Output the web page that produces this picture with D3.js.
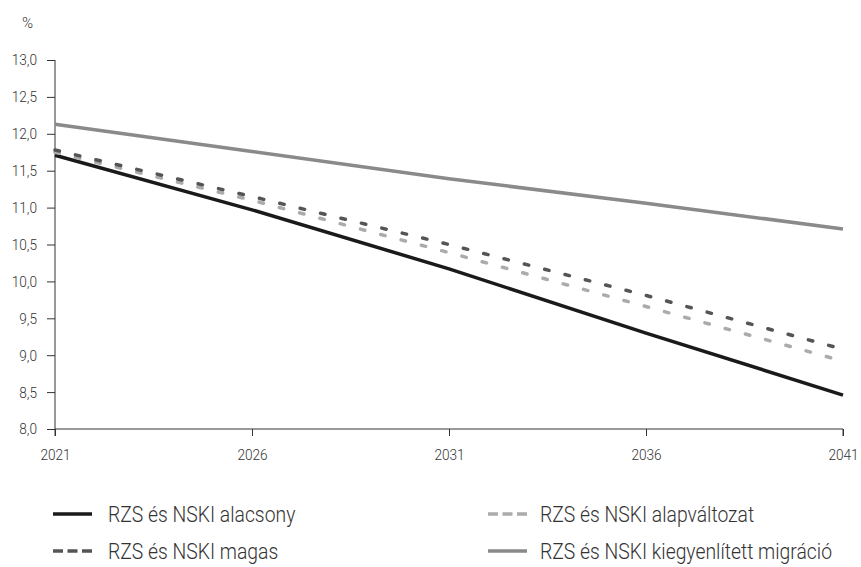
<!DOCTYPE html>
<html><head><meta charset="utf-8">
<script src="https://cdn.jsdelivr.net/npm/d3@7"></script>
<style>
body{margin:0;background:#fff;}
text{font-family:"Roboto",sans-serif;font-weight:300;fill:#333;}
</style></head><body>
<svg id="c" width="861" height="567"></svg>
<script>
const years = [2021, 2026, 2031, 2036, 2041];
const alacsony = [11.71, 10.97, 10.17, 9.30, 8.46];
const magas = [11.78, 11.15, 10.50, 9.81, 9.08];
const alap = [11.75, 11.10, 10.39, 9.66, 8.92];
const migracio = [12.13, 11.76, 11.39, 11.06, 10.71];
const yTicks = [8, 8.5, 9, 9.5, 10, 10.5, 11, 11.5, 12, 12.5, 13];
const xTicks = [2021, 2026, 2031, 2036, 2041];
const series = [
  {name:"RZS és NSKI alacsony", values:alacsony, color:"#1a1a1a", dash:null},
  {name:"RZS és NSKI magas", values:magas, color:"#555555", dash:"4.5,16.5"},
  {name:"RZS és NSKI alapváltozat", values:alap, color:"#ababab", dash:"4.5,16.5"},
  {name:"RZS és NSKI kiegyenlített migráció", values:migracio, color:"#8a8a8a", dash:null}
];
const svg = d3.select("#c");
const x = d3.scaleLinear().domain([2021,2041]).range([55,843]);
const y = d3.scaleLinear().domain([8,13]).range([429,60]);
const fmt = d => d.toFixed(1).replace(".", ",");
const TS = 0.88;

const yAx = svg.append("g").attr("transform","translate(55,0)")
  .call(d3.axisLeft(y).tickValues(yTicks).tickFormat(fmt).tickSize(8));
yAx.select(".domain").attr("d","M0,60V436").attr("stroke","#333");
yAx.selectAll("line").attr("stroke","#333");
yAx.selectAll(".tick text").attr("font-size",15.5)
  .attr("x", -18/TS).attr("transform",`scale(${TS},1)`).attr("text-anchor","end");

const xAx = svg.append("g").attr("transform","translate(0,429)")
  .call(d3.axisBottom(x).tickValues(xTicks).tickFormat(d3.format("d")).tickSize(7).tickPadding(13));
xAx.select(".domain").attr("d","M55,0H843V7").attr("stroke","#333");
xAx.selectAll("line").attr("stroke","#333");
xAx.selectAll(".tick text").attr("font-size",15.5).attr("transform",`scale(${TS},1)`);

svg.append("text").attr("x",22).attr("y",28).attr("font-size",15).text("%");

const line = d3.line().x((d,i)=>x(years[i])).y(d=>y(d));
const order = [series[3], series[0], series[2], series[1]];
order.forEach(s=>{
  svg.append("path").attr("d",line(s.values)).attr("fill","none")
    .attr("stroke",s.color).attr("stroke-width",3.5)
    .attr("stroke-dasharray",s.dash).attr("stroke-linecap",s.dash?"round":"butt");
});

const LS = 0.86;
const legPos = [[53,514],[53,551],[488,514],[488,551]];
const textX = [108,108,540,540];
series.forEach((s,i)=>{
  const [lx,ly] = legPos[i];
  svg.append("line").attr("x1",lx).attr("x2",lx+39).attr("y1",ly).attr("y2",ly)
    .attr("stroke",s.color).attr("stroke-width",3.5)
    .attr("stroke-dasharray",s.dash?"10,4.5":null);
  svg.append("text").attr("transform",`translate(${textX[i]},${ly+8}) scale(${LS},1)`)
    .attr("font-size",22.5).text(s.name);
});
</script></body></html>
